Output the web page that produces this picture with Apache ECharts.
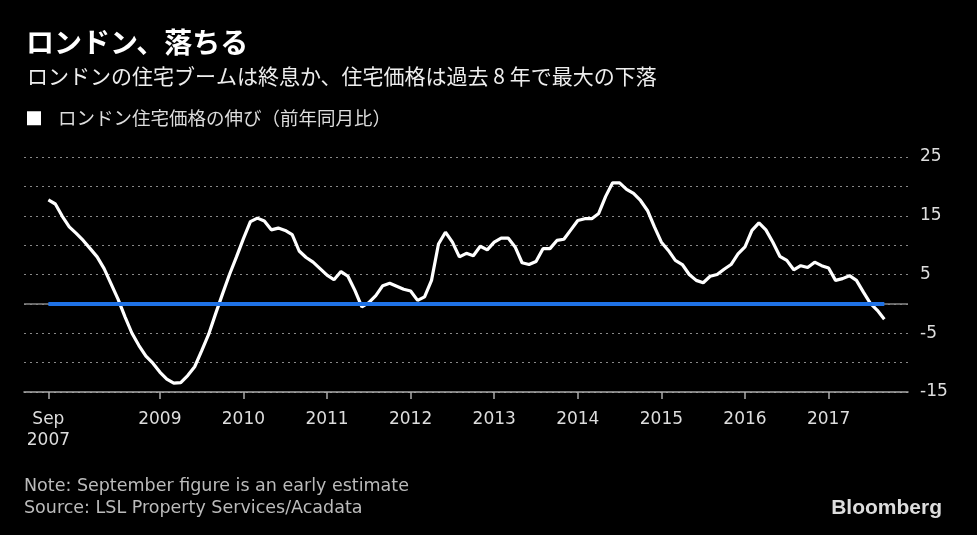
<!DOCTYPE html>
<html>
<head>
<meta charset="utf-8">
<script src="https://cdn.jsdelivr.net/npm/echarts@6.0.0/dist/echarts.min.js"></script>
<style>
  html, body { margin: 0; padding: 0; background: #000; }
  #chart { width: 977px; height: 535px; }
</style>
</head>
<body>
<div id="chart"></div>
<script>
  // ロンドン住宅価格の伸び（前年同月比）, monthly from Sep 2007 to Sep 2017
  const growth = [
    17.7, 17.0, 14.9, 13.1, 12.0, 10.8, 9.4, 8.0, 6.0, 3.4,
    0.8, -2.2, -5.0, -7.1, -8.9, -10.1, -11.6, -12.8, -13.5, -13.4,
    -12.2, -10.7, -8.0, -5.2, -1.7, 1.7, 5.0, 8.0, 11.1, 14.0,
    14.6, 14.1, 12.6, 12.9, 12.5, 11.8, 9.0, 7.9, 7.1, 6.0,
    4.9, 4.1, 5.5, 4.7, 2.3, -0.5, 0.2, 1.4, 3.1, 3.5,
    3.0, 2.5, 2.2, 0.6, 1.2, 4.0, 10.2, 12.2, 10.5, 8.0,
    8.6, 8.2, 9.8, 9.2, 10.5, 11.2, 11.2, 9.7, 7.0, 6.7,
    7.2, 9.4, 9.4, 10.8, 11.0, 12.6, 14.2, 14.5, 14.5, 15.4,
    18.3, 20.6, 20.6, 19.5, 18.8, 17.6, 15.9, 13.1, 10.5, 9.1,
    7.4, 6.7, 5.0, 4.0, 3.6, 4.7, 5.0, 5.9, 6.7, 8.5,
    9.7, 12.5, 13.8, 12.6, 10.5, 8.1, 7.4, 5.8, 6.5, 6.2,
    7.1, 6.5, 6.1, 4.0, 4.3, 4.8, 4.0, 2.0, 0.1, -1.1,
    -2.6
  ];
  // x ticks, counted in months from Sep 2007
  const tickMonths = [0, 16, 28, 40, 52, 64, 76, 88, 100, 112];
  const tickLabels = ['Sep\n2007', '2009', '2010', '2011', '2012', '2013', '2014', '2015', '2016', '2017'];
  const yLabels = [25, 15, 5, -5, -15];

  const jp = "'Noto Sans CJK JP', sans-serif";
  const latin = "'DejaVu Sans', sans-serif";

  const chart = echarts.init(document.getElementById('chart'));
  chart.setOption({
    backgroundColor: '#000',
    animation: false,
    title: [
      {
        text: 'ロンドン、落ちる',
        left: 21, top: 23,
        textStyle: { color: '#fff', fontFamily: jp, fontWeight: 'bold', fontSize: 28 }
      },
      {
        text: 'ロンドンの住宅ブームは終息か、住宅価格は過去 8 年で最大の下落',
        left: 22, top: 61,
        textStyle: { color: '#eee', fontFamily: jp, fontWeight: 'normal', fontSize: 21 }
      }
    ],
    legend: {
      left: 22, top: 104,
      icon: 'rect',
      itemWidth: 14, itemHeight: 14,
      data: ['ロンドン住宅価格の伸び（前年同月比）'],
      textStyle: { color: '#ddd', fontFamily: jp, fontSize: 18.5, padding: [0, 0, 0, 12] }
    },
    grid: { left: 24, right: 69, top: 157, bottom: 143 },
    xAxis: {
      type: 'value',
      min: -3.5,
      max: 123.4,
      axisLine: { show: true, onZero: false, lineStyle: { color: '#aaa', width: 1.5 } },
      axisTick: { show: true, customValues: tickMonths, length: 7, lineStyle: { color: '#aaa', width: 1.5 } },
      axisLabel: {
        customValues: tickMonths,
        formatter: v => tickLabels[tickMonths.indexOf(v)] || '',
        color: '#ddd', fontFamily: latin, fontSize: 17, lineHeight: 21, margin: 17
      },
      splitLine: { show: false }
    },
    yAxis: {
      type: 'value',
      position: 'right',
      min: -15, max: 25, interval: 5,
      axisLine: { show: false },
      axisTick: { show: false },
      axisLabel: {
        formatter: v => (yLabels.indexOf(v) >= 0 ? String(v) : ''),
        color: '#ddd', fontFamily: latin, fontSize: 17, margin: 12
      },
      splitLine: { lineStyle: { color: '#888', type: [2, 4], width: 1.2 } }
    },
    series: [
      {
        name: 'zero',
        type: 'line',
        data: [],
        z: 1,
        markLine: {
          silent: true,
          symbol: 'none',
          label: { show: false },
          data: [
            { yAxis: 0, lineStyle: { color: '#888', width: 1.5, type: 'solid' } },
            [
              { coord: [0, 0], lineStyle: { color: '#1f72e6', width: 4, type: 'solid' } },
              { coord: [growth.length - 1, 0] }
            ]
          ]
        }
      },
      {
        name: 'ロンドン住宅価格の伸び（前年同月比）',
        type: 'line',
        z: 3,
        data: growth.map((v, i) => [i, v]),
        showSymbol: false,
        itemStyle: { color: '#fff' },
        lineStyle: { color: '#fff', width: 3.2 }
      }
    ],
    graphic: [
      {
        type: 'text', left: 24, top: 477,
        style: { text: 'Note: September figure is an early estimate', fill: '#bbb', font: '17.5px ' + latin }
      },
      {
        type: 'text', left: 24, top: 499,
        style: { text: 'Source: LSL Property Services/Acadata', fill: '#bbb', font: '17.5px ' + latin }
      },
      {
        type: 'text', right: 35, top: 498,
        style: { text: 'Bloomberg', fill: '#ddd', font: 'bold 21px "Liberation Sans", sans-serif' }
      }
    ]
  });
</script>
</body>
</html>
